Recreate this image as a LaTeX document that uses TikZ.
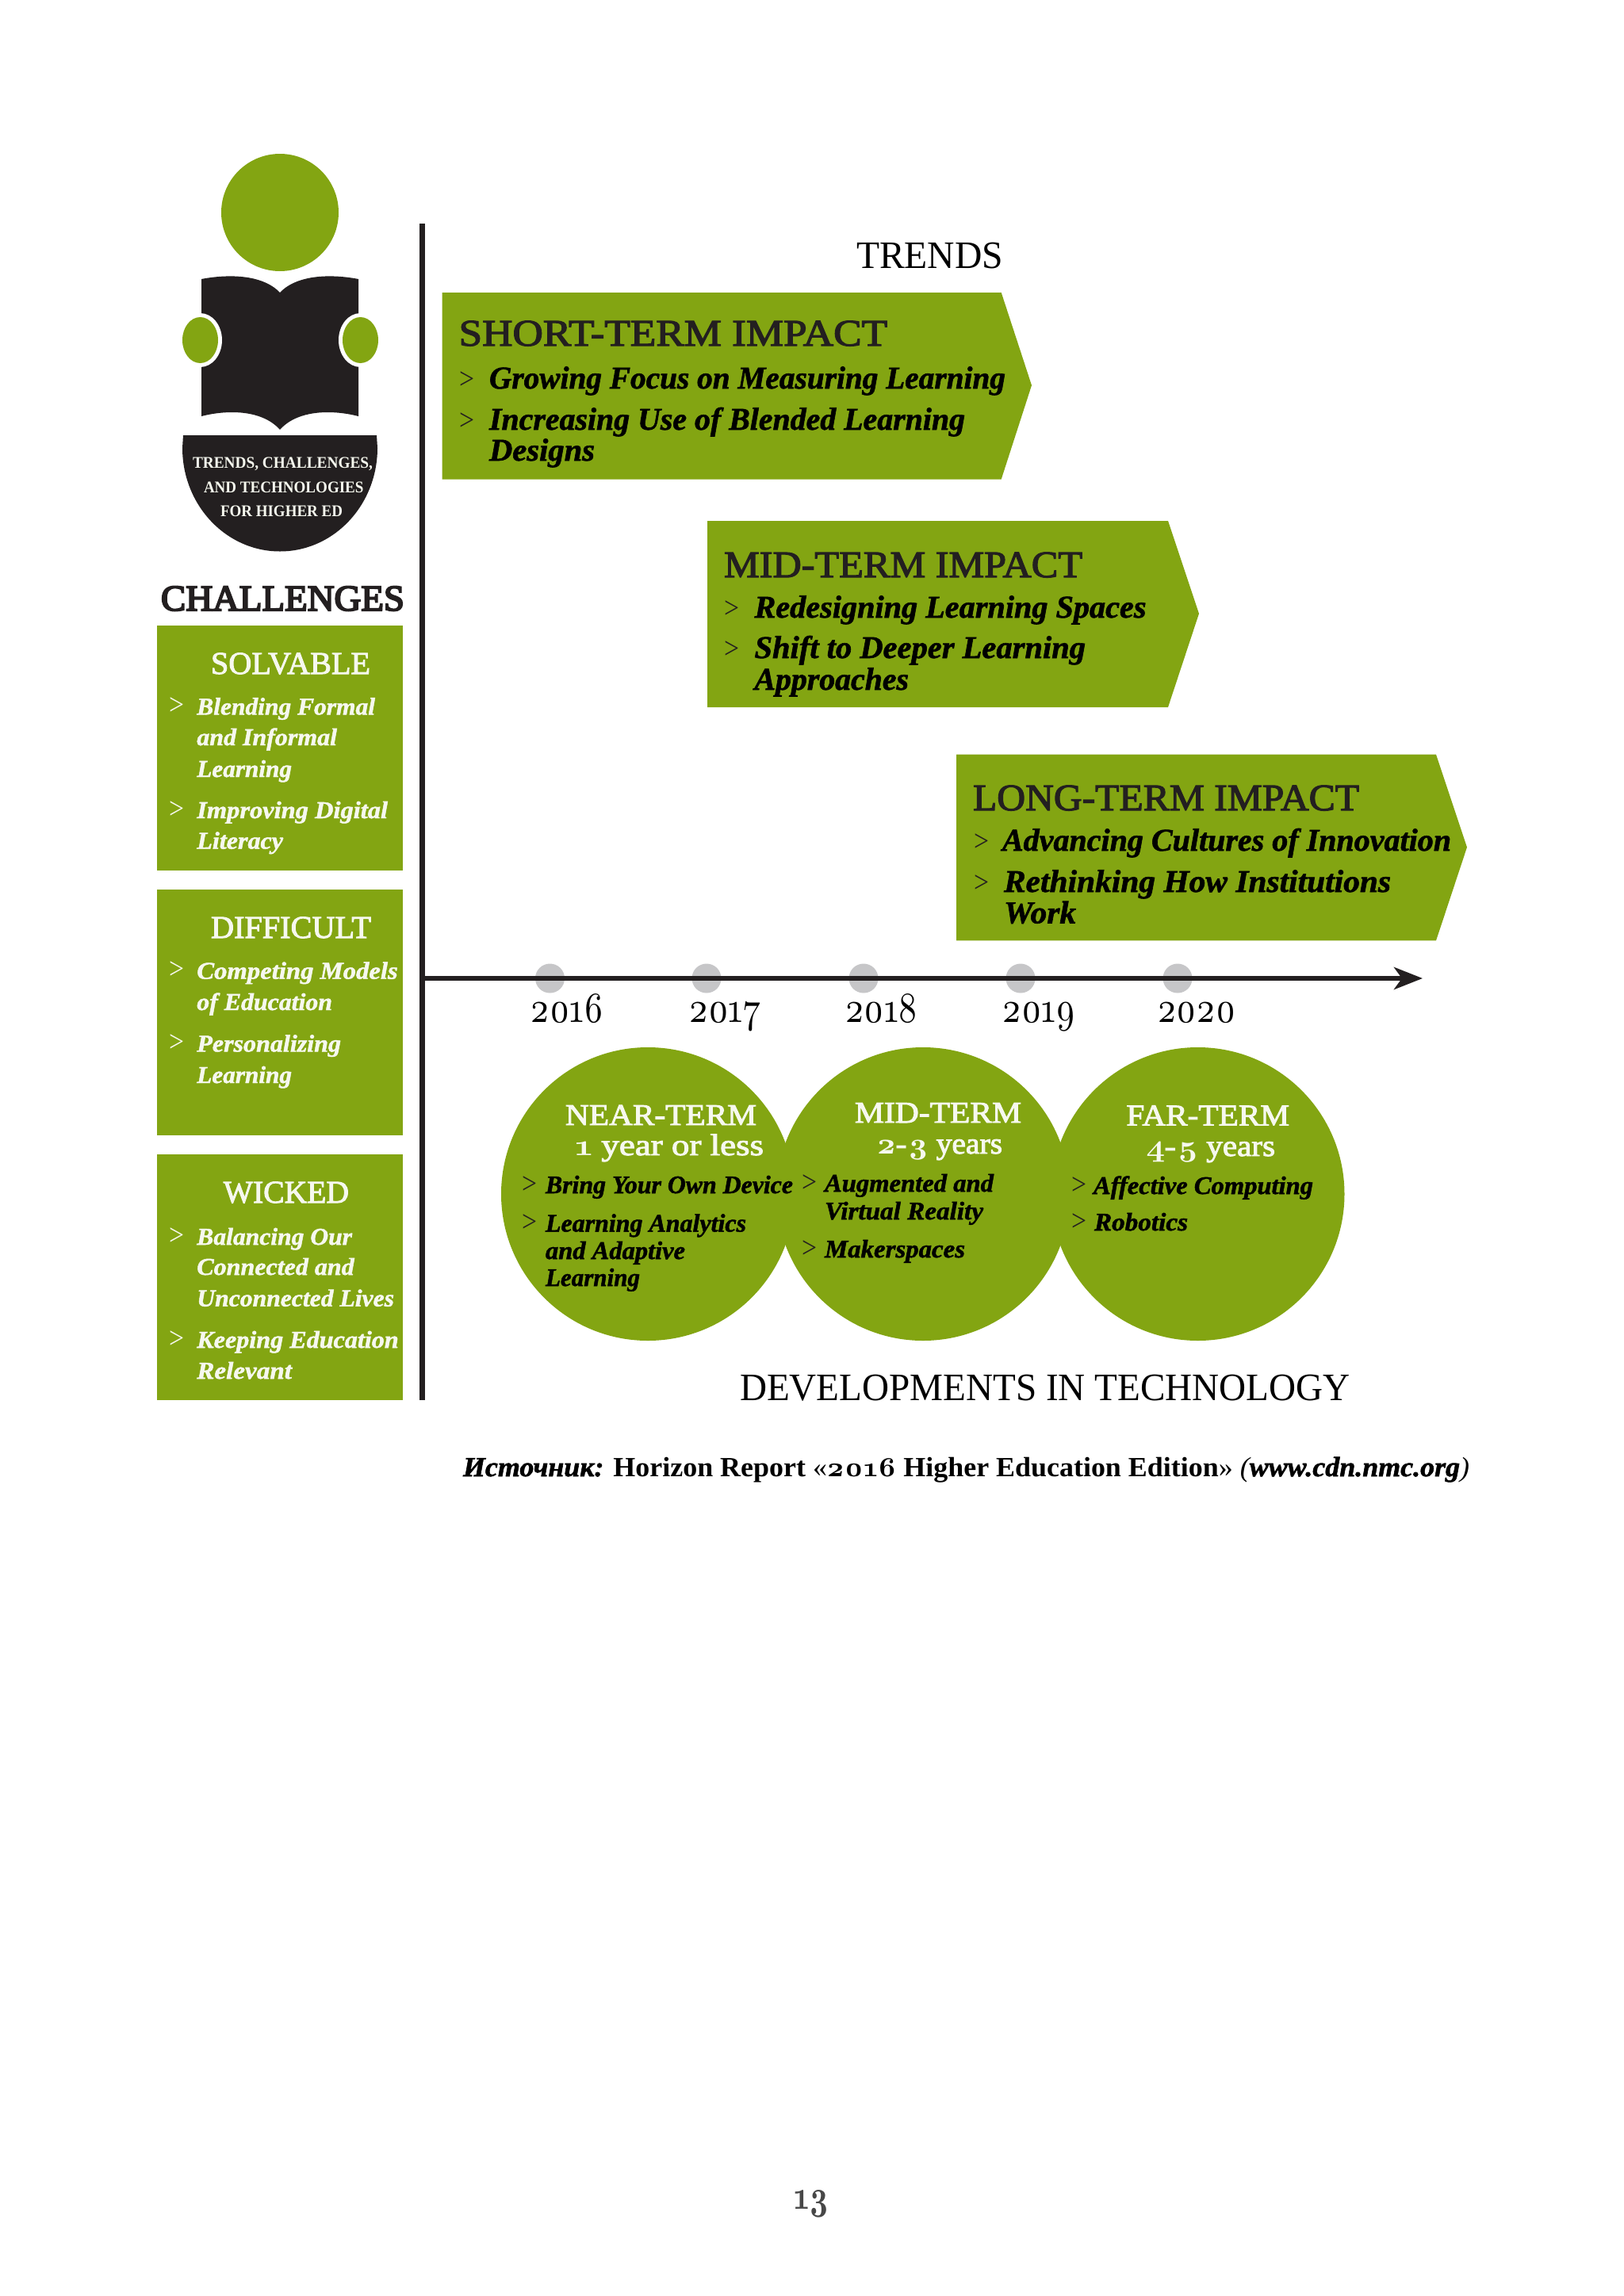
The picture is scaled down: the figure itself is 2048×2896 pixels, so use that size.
\documentclass[tikz,border=0pt]{standalone}
\usepackage{fontspec}
\usepackage{graphicx}
\usetikzlibrary{arrows.meta}
\setmainfont{Liberation Serif}
\newfontfamily\headf[FakeBold=2.5]{Liberation Serif}
\newfontfamily\heavyf[FakeBold=4.5]{Liberation Serif}
\newfontfamily\bodyf[BoldItalicFeatures={FakeBold=1.5}]{Liberation Serif}
\newfontfamily\lmo{lmroman10-regular}[Extension=.otf,Numbers=OldStyle]
\newfontfamily\lmob{lmroman10-bold}[Extension=.otf,Numbers=OldStyle]
\newlength\pxu \setlength\pxu{0.5pt}
\definecolor{leaf}{HTML}{83A512}
\definecolor{ink}{HTML}{231F20}
\definecolor{dotgrey}{HTML}{C6C6C8}
\definecolor{paper}{HTML}{F6F8EE}
\newcommand\fitw[2]{\resizebox{#1\pxu}{\height}{#2}}
% name, x, baseline y, width, style, text
\newcommand\tl[6]{\node[tx,#5] (#1) at (#2,#3) {\fitw{#4}{#6}};}
\newcommand\bul[4]{\node[tx,#4] (#1) at (#2,#3) {\fitw{19}{\normalfont\fontsize{19pt}{19pt}\selectfont >}};}
\newcommand\fs[1]{\fontsize{#1pt}{#1pt}\selectfont}
\newcommand\bodyfont{\bodyf\bfseries\itshape}
\tikzset{
  tx/.style={anchor=base west,inner sep=0pt,outer sep=0pt},
  greenfill/.style={fill=leaf,draw=none},
  inkfill/.style={fill=ink,draw=none},
  titleblack/.style={font=\fs{24.5},text=black},
  armhead/.style={font=\headf\fs{23.7},text=ink},
  armbody/.style={font=\bodyfont\fs{20},text=black},
  armbul/.style={text=ink},
  sidehead/.style={font=\headf\fs{20},text=paper},
  sidebody/.style={font=\bodyfont\fs{15.3},text=paper},
  sidebul/.style={text=paper},
  cirhead/.style={font=\headf\fs{19},text=paper},
  cirsub/.style={font=\headf\fs{19},text=paper},
  cirbody/.style={font=\bodyfont\fs{16},text=black},
  cirbul/.style={text=ink},
  logotext/.style={font=\bfseries\fs{10.3},text=paper},
  yeartext/.style={font=\lmo\fs{27},text=black},
  greydot/.style={circle,fill=dotgrey,draw=none,minimum size=18.5pt,inner sep=0pt},
}
\begin{document}
\begin{tikzpicture}[x=0.5pt,y=-0.5pt]
\useasboundingbox (0,0) rectangle (2048,2896);
\fill[white] (0,0) rectangle (2048,2896);

% logo
\fill[greenfill] (353,268) circle[radius=74];
\fill[inkfill] (254,352) .. controls (285,346) and (330,345) .. (353,369)
   .. controls (376,345) and (421,346) .. (452,352) -- (452,525)
   .. controls (421,517) and (376,516) .. (353,542)
   .. controls (330,516) and (285,517) .. (254,525) -- cycle;
\fill[white] (252.5,429) ellipse[x radius=27.5,y radius=34];
\fill[white] (454.5,429) ellipse[x radius=27.5,y radius=34];
\fill[greenfill] (252.5,429) ellipse[x radius=22.5,y radius=29];
\fill[greenfill] (454.5,429) ellipse[x radius=22.5,y radius=29];
\fill[inkfill] (231,549) -- (475,549) -- (476,565)
   arc[start angle=0,end angle=180,x radius=123,y radius=130.5] -- cycle;
\tl{logoa}{243}{590}{227}{logotext}{TRENDS, CHALLENGES,}
\tl{logob}{257}{621}{201.5}{logotext}{AND TECHNOLOGIES}
\tl{logoc}{278}{651}{154}{logotext}{FOR HIGHER ED}
\tl{challenges}{203}{770}{307}{font=\heavyf\fs{23},text=ink}{CHALLENGES}

% side boxes
\fill[greenfill] (198,789) rectangle (508,1098);
\fill[greenfill] (198,1122.4) rectangle (508,1432);
\fill[greenfill] (198,1456) rectangle (508,1766);

\tl{solv}{266}{850}{201}{sidehead}{SOLVABLE}
\bul{sa}{213}{901.4}{sidebul}
\tl{sat}{248.3}{901.4}{224.7}{sidebody}{Blending Formal}
\tl{sbt}{248.3}{940}{176.7}{sidebody}{and Informal}
\tl{sct}{248.3}{980}{119.7}{sidebody}{Learning}
\bul{sd}{213}{1032}{sidebul}
\tl{sdt}{248.3}{1032}{240.7}{sidebody}{Improving Digital}
\tl{set}{248.3}{1070.6}{108.7}{sidebody}{Literacy}

\tl{diff}{266}{1183}{202}{sidehead}{DIFFICULT}
\bul{da}{213}{1234.7}{sidebul}
\tl{dat}{248.3}{1234.7}{253.4}{sidebody}{Competing Models}
\tl{dbt}{248.3}{1274}{170.7}{sidebody}{of Education}
\bul{dc}{213}{1326.5}{sidebul}
\tl{dct}{248.3}{1326.5}{181.7}{sidebody}{Personalizing}
\tl{ddt}{248.3}{1366}{119.7}{sidebody}{Learning}

\tl{wick}{281.7}{1517}{158.3}{sidehead}{WICKED}
\bul{wa}{213}{1570}{sidebul}
\tl{wat}{248.3}{1570}{195.7}{sidebody}{Balancing Our}
\tl{wbt}{248.3}{1608}{198.4}{sidebody}{Connected and}
\tl{wct}{248.3}{1647.7}{248.7}{sidebody}{Unconnected Lives}
\bul{wd}{213}{1700}{sidebul}
\tl{wdt}{248.3}{1700}{254.4}{sidebody}{Keeping Education}
\tl{wet}{248.3}{1739}{119.7}{sidebody}{Relevant}

% axes
\coordinate (vtop) at (532.5,282);
\coordinate (vbot) at (532.5,1766);
\coordinate (axstart) at (529,1234);
\coordinate (axend) at (1794,1234);
\foreach \n/\x in {d16/693.5,d17/891,d18/1089,d19/1287,d20/1485}
  \node[greydot] (\n) at (\x,1234) {};
\draw[ink,line width=3.5pt] (vtop) -- (vbot);
\draw[ink,line width=3pt,-{Stealth[length=18pt,width=14pt,inset=5pt]}] (axstart) -- (axend);
\tl{y16}{668.6}{1289}{93}{yeartext}{2016}
\tl{y17}{868}{1289}{92}{yeartext}{2017}
\tl{y18}{1065}{1289}{93}{yeartext}{2018}
\tl{y19}{1263.5}{1289}{93.5}{yeartext}{2019}
\tl{y20}{1459}{1289}{99.5}{yeartext}{2020}

% trends
\tl{trends}{1080}{338}{185}{titleblack}{TRENDS}
\fill[greenfill] (557.7,369) -- (1262.7,369) -- (1301,486) -- (1262.7,604.5) -- (557.7,604.5) -- cycle;
\fill[greenfill] (892,657) -- (1473,657) -- (1512,774) -- (1473,892) -- (892,892) -- cycle;
\fill[greenfill] (1206,951.6) -- (1811,951.6) -- (1850,1068.6) -- (1811,1186.4) -- (1206,1186.4) -- cycle;

\tl{sh}{578.6}{436}{540.4}{armhead}{SHORT-TERM IMPACT}
\bul{sha}{579}{490}{armbul}
\tl{shat}{617}{490}{651}{armbody}{Growing Focus on Measuring Learning}
\bul{shb}{579}{542}{armbul}
\tl{shbt}{617}{542}{600}{armbody}{Increasing Use of Blended Learning}
\tl{shct}{617}{581}{133}{armbody}{Designs}

\tl{mi}{913}{728}{452}{armhead}{MID-TERM IMPACT}
\bul{mia}{913}{779}{armbul}
\tl{miat}{951.5}{779}{494}{armbody}{Redesigning Learning Spaces}
\bul{mib}{913}{830}{armbul}
\tl{mibt}{951.5}{830}{417.5}{armbody}{Shift to Deeper Learning}
\tl{mict}{951.5}{870}{194.5}{armbody}{Approaches}

\tl{lo}{1227}{1022}{487}{armhead}{LONG-TERM IMPACT}
\bul{loa}{1228}{1073}{armbul}
\tl{loat}{1264}{1073}{566}{armbody}{Advancing Cultures of Innovation}
\bul{lob}{1228}{1125}{armbul}
\tl{lobt}{1266}{1125}{488}{armbody}{Rethinking How Institutions}
\tl{loct}{1266}{1164.5}{91}{armbody}{Work}

% developments
\fill[greenfill] (817,1506) circle[radius=185];
\fill[greenfill] (1164,1506) circle[radius=185];
\fill[greenfill] (1510.5,1506) circle[radius=185];

\tl{ne}{713}{1419}{241}{cirhead}{NEAR-TERM}
\tl{nesub}{725}{1457}{238}{cirsub}{{\lmob 1} year or less}
\bul{nea}{658}{1505}{cirbul}
\tl{neat}{688}{1505}{312}{cirbody}{Bring Your Own Device}
\bul{neb}{658}{1553.5}{cirbul}
\tl{nebt}{688}{1553.5}{253}{cirbody}{Learning Analytics}
\tl{nect}{688}{1588}{176}{cirbody}{and Adaptive}
\tl{nedt}{688}{1622}{119}{cirbody}{Learning}

\tl{me}{1078}{1416}{210}{cirhead}{MID-TERM}
\tl{mesub}{1105}{1455}{159}{cirsub}{{\lmob 2-3} years}
\bul{mea}{1011}{1503}{cirbul}
\tl{meat}{1040}{1503}{213}{cirbody}{Augmented and}
\tl{mebt}{1040}{1538}{200}{cirbody}{Virtual Reality}
\bul{mec}{1011}{1586}{cirbul}
\tl{mect}{1040}{1586}{177}{cirbody}{Makerspaces}

\tl{fa}{1420.5}{1419.5}{205.5}{cirhead}{FAR-TERM}
\tl{fasub}{1445}{1458}{163}{cirsub}{{\lmob 4-5} years}
\bul{faa}{1351.7}{1506}{cirbul}
\tl{faat}{1379}{1506}{277}{cirbody}{Affective Computing}
\bul{fab}{1351.7}{1552}{cirbul}
\tl{fabt}{1380}{1552}{118}{cirbody}{Robotics}

\tl{devel}{933}{1766}{769.6}{titleblack}{DEVELOPMENTS IN TECHNOLOGY}
\tl{source}{584}{1862}{1269}{font=\bodyf\bfseries\fs{17.5},text=black}{{\itshape Источник:} Horizon Report {\normalfont«}{\lmob 2016} Higher Education Edition{\normalfont»} {\normalfont\itshape(}{\itshape www.cdn.nmc.org}{\normalfont\itshape)}}
\tl{pageno}{1001.7}{2786.7}{44.3}{font=\lmob\fs{26},text=black!72}{13}
\end{tikzpicture}
\end{document}
